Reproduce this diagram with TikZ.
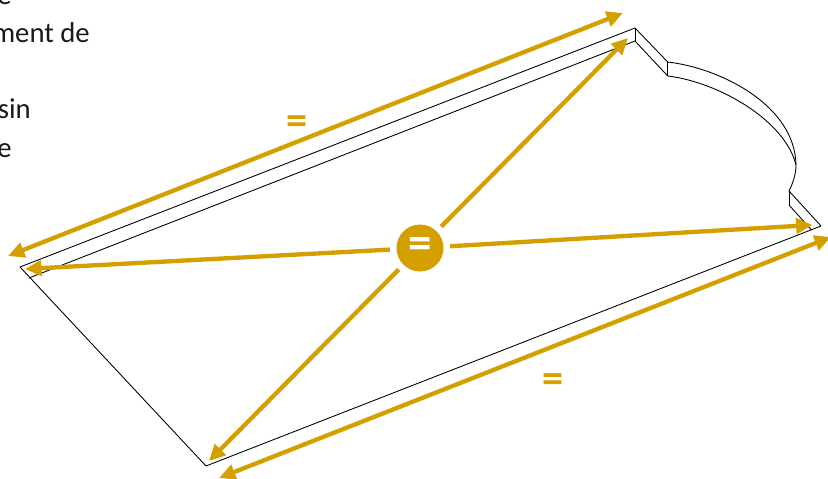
\documentclass[tikz,border=0pt]{standalone}
\usepackage{fontspec}
\usepackage{xcolor}
\usetikzlibrary{arrows.meta}
\setmainfont{Carlito}
\definecolor{gold}{HTML}{D4A000}

\tikzset{
  outline/.style={draw=black,line width=.75pt},
  cote/.style={draw=gold,line width=3.7pt,{Triangle[length=14pt,width=13pt]}-{Triangle[length=14pt,width=13pt]}},
  diag/.style={draw=gold,line width=3.7pt,-{Triangle[length=14pt,width=13pt]}},
  egal/.style={text=gold,font=\fontsize{36}{36}\selectfont\bfseries},
  hub/.style={circle,fill=gold,text=white,minimum size=1.41cm,inner sep=0pt,outer sep=.2cm,font=\fontsize{40}{40}\selectfont\bfseries},
  legende/.style={anchor=base east,inner sep=0pt,text=black!90,font=\fontsize{24.5}{24.5}\selectfont}
}

\begin{document}
\begin{tikzpicture}[x=.03cm,y=-.03cm]
  \useasboundingbox (0,0) rectangle (828,479);
  \clip (0,0) rectangle (828,479);

  % text cut off by the frame
  \node[legende] (l1) at (12,5)   {e};
  \node[legende] (l2) at (90,43)  {ment de};
  \node[legende] (l3) at (31,119) {sin};
  \node[legende] (l4) at (12,158) {e};

  % plan corners
  \coordinate (a) at (20,267);
  \coordinate (b) at (635,28);
  \coordinate (c) at (667.7,62);
  \coordinate (d) at (796,165);
  \coordinate (e) at (789,191);
  \coordinate (f) at (821,226);
  \coordinate (g) at (206,466);
  % lower edge of the moulding
  \coordinate (a2) at (29,278);
  \coordinate (b2) at (635,41);
  \coordinate (c2) at (667.7,76);
  \coordinate (e2) at (789,205);
  \coordinate (f2) at (811.5,230);

  \foreach \from/\to in {a/b,b/c,e/f,f/g,g/a,a2/b2,b2/c2,e2/f2,b/b2,c/c2,e/e2}
    \draw[outline] (\from) -- (\to);
  \draw[outline] (c) .. controls (720,68) and (795,105) .. (d);
  \draw[outline] (c2) .. controls (718,82) and (785,120) .. (d);
  \draw[outline] (d) .. controls (796,174) and (793,183) .. (e);

  % dimension ends
  \coordinate (t1) at (8,256);
  \coordinate (t2) at (623,13);
  \coordinate (u1) at (219,478);
  \coordinate (u2) at (831,237);
  \coordinate (p1) at (628,38);
  \coordinate (p2) at (812.5,225);
  \coordinate (p3) at (209,461);
  \coordinate (p4) at (25,269);

  \node[hub] (mid) at (420,248) {\raisebox{-5.5pt}{=}};
  \draw[cote] (t1) -- (t2);
  \draw[cote] (u1) -- (u2);
  \foreach \to in {p1,p2,p3,p4}
    \draw[diag] (mid) -- (\to);

  \node[egal] (eq1) at (297,125) {=};
  \node[egal] (eq2) at (553,383) {=};
\end{tikzpicture}
\end{document}
